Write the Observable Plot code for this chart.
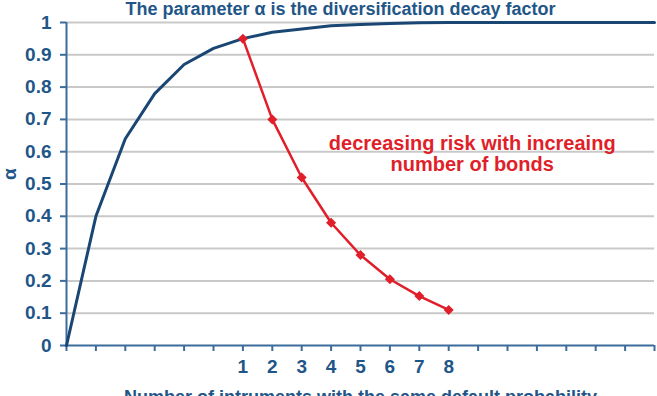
<!DOCTYPE html>
<html>
<head>
<meta charset="utf-8">
<script src="https://cdn.jsdelivr.net/npm/d3@7"></script>
<script src="https://cdn.jsdelivr.net/npm/@observablehq/plot@0.6"></script>
<style>
  body { margin: 0; background: #fff; }
  #chart svg { font-family: "Liberation Sans", Arial, sans-serif; }
</style>
</head>
<body>
<div id="chart"></div>
<script>
// Diversification decay factor α against the number of instruments
const instrumentIndex = [0, 1, 2, 3, 4, 5, 6, 7, 8, 9, 10, 11, 12, 13, 14, 15, 16, 17, 18, 19, 20];
const alphaValues = [0, 0.40, 0.64, 0.78, 0.87, 0.92, 0.95, 0.97, 0.98, 0.99, 0.994, 0.997, 0.999, 1, 1, 1, 1, 1, 1, 1, 1];

// Risk for a growing number of bonds (placed on ticks 6..13)
const bondTicks = [6, 7, 8, 9, 10, 11, 12, 13];
const bondLabels = ["1", "2", "3", "4", "5", "6", "7", "8"];
const riskValues = [0.95, 0.70, 0.52, 0.38, 0.28, 0.205, 0.153, 0.11];

const yTicks = [0, 0.1, 0.2, 0.3, 0.4, 0.5, 0.6, 0.7, 0.8, 0.9, 1];
const yTickLabels = ["0", "0.1", "0.2", "0.3", "0.4", "0.5", "0.6", "0.7", "0.8", "0.9", "1"];

const titleText = "The parameter α is the diversification decay factor";
const xTitle = "Number of intruments with the same default probability";
const yTitle = "α";
const noteText = "decreasing risk with increaing\nnumber of bonds";

const textBlue = "#1f5688";
const axisBlue = "#3b6c9b";
const curveBlue = "#1a4674";
const red = "#e01f2a";

const curve = instrumentIndex.map((x, i) => ({x, y: alphaValues[i]}));
const bonds = bondTicks.map((x, i) => ({x, y: riskValues[i]}));

const chart = Plot.plot({
  width: 657,
  height: 396,
  marginLeft: 66,
  marginRight: 3,
  marginTop: 22,
  marginBottom: 51,
  x: {domain: [0, 20]},
  y: {domain: [0, 1]},
  marks: [
    Plot.ruleY(yTicks.slice(1), {stroke: "#c9c9c9", strokeWidth: 2}),
    Plot.axisY({
      ticks: yTicks,
      tickFormat: (d, i) => yTickLabels[i],
      tickSize: 6,
      tickPadding: 9,
      stroke: axisBlue,
      strokeWidth: 2,
      fill: textBlue,
      fontSize: 19,
      fontWeight: "bold",
      label: null
    }),
    Plot.axisX({
      ticks: instrumentIndex,
      tickFormat: () => "",
      tickSize: 6,
      stroke: axisBlue,
      strokeWidth: 2,
      label: null
    }),
    Plot.axisX({
      ticks: bondTicks,
      tickFormat: (d, i) => bondLabels[i],
      tickSize: 0,
      tickPadding: 14,
      fill: textBlue,
      fontSize: 19,
      fontWeight: "bold",
      label: null
    }),
    Plot.ruleY([0], {stroke: axisBlue, strokeWidth: 2}),
    Plot.ruleX([0], {stroke: axisBlue, strokeWidth: 2}),
    Plot.line(curve, {x: "x", y: "y", stroke: curveBlue, strokeWidth: 3}),
    Plot.line(bonds, {x: "x", y: "y", stroke: red, strokeWidth: 2.5}),
    // square markers turned 45° so they read as even diamonds
    Plot.dot(bonds, {x: "x", y: "y", symbol: "square", rotate: 45, fill: red, r: 4}),
    Plot.text([noteText], {
      x: 13.8, y: 0.595,
      fill: red, fontSize: 20, fontWeight: "bold",
      lineAnchor: "middle", textAnchor: "middle", lineHeight: 1.05
    }),
    Plot.text([titleText], {
      frameAnchor: "top", dx: -20, dy: -8,
      lineAnchor: "bottom",
      fill: textBlue, fontSize: 18, fontWeight: "bold"
    }),
    Plot.text([xTitle], {
      frameAnchor: "bottom", dy: 45,
      lineAnchor: "top",
      fill: textBlue, fontSize: 18, fontWeight: "bold"
    }),
    Plot.text([yTitle], {
      frameAnchor: "left", dx: -57, dy: -4,
      rotate: -90,
      fill: textBlue, fontSize: 19, fontWeight: "bold"
    })
  ]
});

document.getElementById("chart").appendChild(chart);
</script>
</body>
</html>
